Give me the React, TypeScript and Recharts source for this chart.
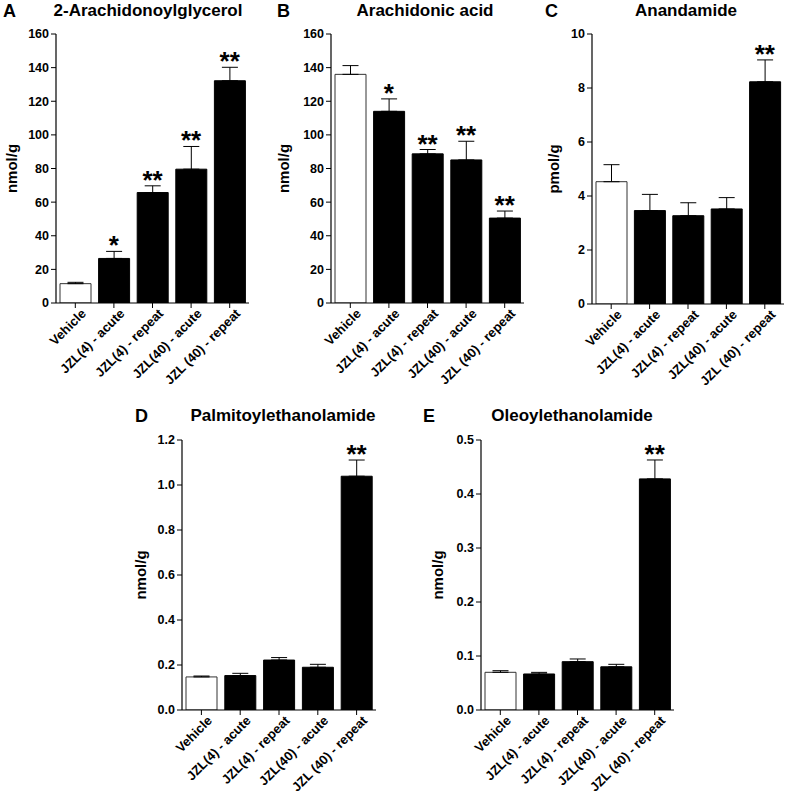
import React from "react";
import {
  ComposedChart,
  Bar,
  Cell,
  Line,
  LabelList,
  ErrorBar,
  XAxis,
  YAxis,
} from "recharts";

const categories = [
  "Vehicle",
  "JZL(4) - acute",
  "JZL(4) - repeat",
  "JZL(40) - acute",
  "JZL (40) - repeat",
];

// 2-Arachidonoylglycerol (nmol/g)
const agValues = [11.5, 26.5, 65.7, 79.6, 132.2];
const agErr = [0.8, 4.2, 4.0, 13.5, 8.0];
const agSig = ["", "*", "**", "**", "**"];

// Arachidonic acid (nmol/g)
const aaValues = [136, 114, 88.7, 85.1, 50.5];
const aaErr = [5.2, 7.4, 2.6, 11.1, 4.2];
const aaSig = ["", "*", "**", "**", "**"];

// Anandamide (pmol/g)
const aeaValues = [4.53, 3.46, 3.27, 3.52, 8.23];
const aeaErr = [0.63, 0.6, 0.48, 0.42, 0.81];
const aeaSig = ["", "", "", "", "**"];

// Palmitoylethanolamide (nmol/g)
const peaValues = [0.147, 0.153, 0.222, 0.19, 1.039];
const peaErr = [0.004, 0.01, 0.011, 0.013, 0.072];
const peaSig = ["", "", "", "", "**"];

// Oleoylethanolamide (nmol/g)
const oeaValues = [0.0698, 0.0667, 0.0895, 0.08, 0.428];
const oeaErr = [0.003, 0.003, 0.005, 0.0046, 0.035];
const oeaSig = ["", "", "", "", "**"];

const ticks160 = [0, 20, 40, 60, 80, 100, 120, 140, 160];
const ticks10 = [0, 2, 4, 6, 8, 10];
const ticks12 = [0, 0.2, 0.4, 0.6, 0.8, 1.0, 1.2];
const ticks05 = [0, 0.1, 0.2, 0.3, 0.4, 0.5];

const FONT = '"Liberation Sans", Arial, sans-serif';

function build(values: number[], err: number[], sig: string[]) {
  return categories.map((name, i) => ({
    name,
    value: values[i],
    err: [0, err[i]],
    top: values[i] + err[i],
    sig: sig[i],
  }));
}

const CatTick = (props: any) => {
  const { x, y, payload } = props;
  return (
    <g transform={`translate(${x + 5},${y - 2})`}>
      <text
        x={0}
        y={0}
        dy="0.7em"
        textAnchor="end"
        transform="rotate(-45)"
        fontFamily={FONT}
        fontWeight="bold"
        fontSize={13}
        fill="#000"
      >
        {payload.value}
      </text>
    </g>
  );
};

const StarLabel = (props: any) => {
  const { x, y, value } = props;
  if (!value) return null;
  return (
    <text
      x={x}
      y={y + 3}
      textAnchor="middle"
      fontFamily={FONT}
      fontWeight="bold"
      fontSize={26}
      fill="#000"
    >
      {value}
    </text>
  );
};

const YW = 56;

function Panel({
  plotX0,
  plotX1,
  plotY0,
  plotY1,
  top,
  labelX,
  yLabel,
  ticks,
  decimals,
  data,
}: any) {
  const left = plotX0 - YW;
  const width = plotX1 - left + 4;
  const height = Math.min(plotY1 - top + 88, 795 - top);
  const xh = height - (plotY1 - top);
  const max = ticks[ticks.length - 1];
  const dx = labelX - (left + YW / 2);
  return (
    <div style={{ position: "absolute", left, top, width, height }}>
      <ComposedChart
        width={width}
        height={height}
        data={data}
        margin={{ top: plotY0 - top, right: 4, bottom: 0, left: 0 }}
      >
        <XAxis
          dataKey="name"
          interval={0}
          height={xh}
          tick={<CatTick />}
          tickSize={5}
          axisLine={{ stroke: "#000", strokeWidth: 1.2 }}
          tickLine={{ stroke: "#000", strokeWidth: 1 }}
        />
        <YAxis
          width={YW}
          domain={[0, max]}
          ticks={ticks}
          interval={0}
          tickSize={5}
          tickMargin={2}
          allowDataOverflow
          tickFormatter={(v: number) => v.toFixed(decimals)}
          tick={{ fill: "#000", fontFamily: FONT, fontWeight: "bold", fontSize: 12.5 }}
          axisLine={{ stroke: "#000", strokeWidth: 1.2 }}
          tickLine={{ stroke: "#000", strokeWidth: 1 }}
          label={{
            value: yLabel,
            angle: -90,
            position: "center",
            dx,
            style: { fontFamily: FONT, fontWeight: "bold", fontSize: 15, fill: "#000" },
          }}
        />
        <Bar dataKey="value" barSize={31} stroke="#000" strokeWidth={1} isAnimationActive={false}>
          {data.map((d: any, i: number) => (
            <Cell key={d.name} fill={i === 0 ? "#fff" : "#000"} stroke={i === 0 ? "#333" : "#000"} />
          ))}
          <ErrorBar dataKey="err" width={8} stroke="#000" strokeWidth={1} direction="y" />
        </Bar>
        <Line
          dataKey="top"
          stroke="none"
          dot={false}
          activeDot={false}
          isAnimationActive={false}
        >
          <LabelList dataKey="sig" content={<StarLabel />} />
        </Line>
      </ComposedChart>
    </div>
  );
}

const titleStyle = (cx: number, cy: number): React.CSSProperties => ({
  position: "absolute",
  left: cx,
  top: cy - 10,
  transform: "translateX(-50%)",
  fontFamily: FONT,
  fontWeight: "bold",
  fontSize: 17,
  lineHeight: "20px",
  color: "#000",
  whiteSpace: "nowrap",
});

const letterStyle = (x: number, cy: number): React.CSSProperties => ({
  position: "absolute",
  left: x,
  top: cy - 11,
  fontFamily: FONT,
  fontWeight: "bold",
  fontSize: 18,
  lineHeight: "22px",
  color: "#000",
});

export default function App() {
  return (
    <div
      style={{
        position: "absolute",
        left: 0,
        top: 0,
        width: 788,
        height: 795,
        background: "#fff",
        overflow: "hidden",
      }}
    >
      <div style={letterStyle(3, 11)}>A</div>
      <div style={titleStyle(148, 11)}>2-Arachidonoylglycerol</div>
      <div style={letterStyle(277, 11)}>B</div>
      <div style={titleStyle(425, 11)}>Arachidonic acid</div>
      <div style={letterStyle(545, 11)}>C</div>
      <div style={titleStyle(686, 11)}>Anandamide</div>
      <div style={letterStyle(135, 416)}>D</div>
      <div style={titleStyle(283, 416)}>Palmitoylethanolamide</div>
      <div style={letterStyle(423, 416)}>E</div>
      <div style={titleStyle(572, 416)}>Oleoylethanolamide</div>

      <Panel
        plotX0={56}
        plotX1={249}
        plotY0={34}
        plotY1={303}
        top={0}
        labelX={12}
        yLabel="nmol/g"
        ticks={ticks160}
        decimals={0}
        data={build(agValues, agErr, agSig)}
      />
      <Panel
        plotX0={331}
        plotX1={524}
        plotY0={34}
        plotY1={303}
        top={0}
        labelX={284}
        yLabel="nmol/g"
        ticks={ticks160}
        decimals={0}
        data={build(aaValues, aaErr, aaSig)}
      />
      <Panel
        plotX0={592}
        plotX1={784}
        plotY0={34}
        plotY1={304}
        top={0}
        labelX={554}
        yLabel="pmol/g"
        ticks={ticks10}
        decimals={0}
        data={build(aeaValues, aeaErr, aeaSig)}
      />
      <Panel
        plotX0={182}
        plotX1={376}
        plotY0={440}
        plotY1={710}
        top={400}
        labelX={141}
        yLabel="nmol/g"
        ticks={ticks12}
        decimals={1}
        data={build(peaValues, peaErr, peaSig)}
      />
      <Panel
        plotX0={481}
        plotX1={674}
        plotY0={440}
        plotY1={710}
        top={400}
        labelX={438}
        yLabel="nmol/g"
        ticks={ticks05}
        decimals={1}
        data={build(oeaValues, oeaErr, oeaSig)}
      />
    </div>
  );
}
